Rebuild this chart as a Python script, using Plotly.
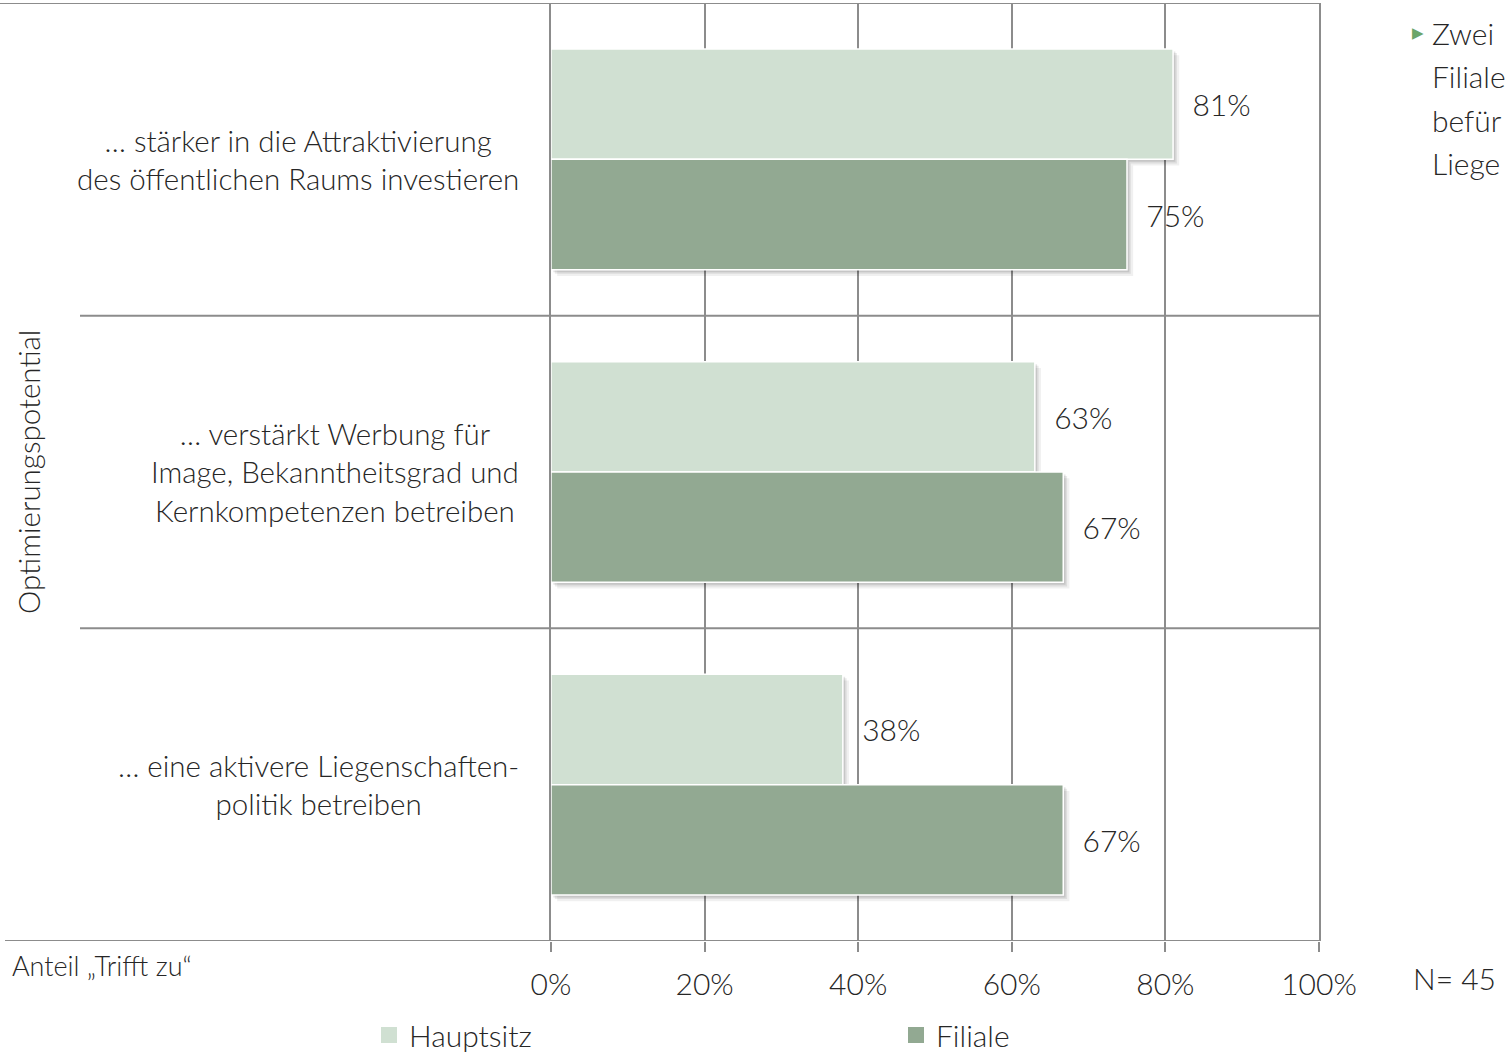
import plotly.graph_objects as go

# ---- data ----
categories = [
    "… stärker in die Attraktivierung<br>des öffentlichen Raums investieren",
    "… verstärkt Werbung für<br>Image, Bekanntheitsgrad und<br>Kernkompetenzen betreiben",
    "… eine aktivere Liegenschaften-<br>politik betreiben",
]
series_names = ["Hauptsitz", "Filiale"]
hauptsitz = [0.81, 0.63, 0.38]
filiale = [0.75, 0.667, 0.667]
x_ticks = [0, 0.2, 0.4, 0.6, 0.8, 1.0]
x_tick_labels = ["0%", "20%", "40%", "60%", "80%", "100%"]
y_axis_title = "Optimierungspotential"
x_axis_title = "Anteil „Trifft zu“"
sample_note = "N= 45"
note_lines = ["Zwei", "Filiale", "befür", "Liege"]  # visible (cut-off) part of side note

# ---- style ----
FONT = "Lato"
TXT = "#262626"
GRID = "#8c8c8c"
C_LIGHT = "#d0e0d2"
C_DARK = "#92a992"
BW = 0.353  # bar thickness (category units)

W, H = 1508, 1053
L, R, T, B = 551, 189, 3, 112
PW, PH = W - L - R, H - T - B

def px_x(p):
    return (p - L) / PW

def px_y(p):
    return (H - B - p) / PH

fig = go.Figure()

# soft drop shadows (drawn from the same data)
for vals, off in [(hauptsitz, -BW), (filiale, 0.0)]:
    for dx, dy, a in [(0.008, 0.02, 0.06), (0.005, 0.013, 0.08), (0.003, 0.008, 0.10)]:
        fig.add_trace(go.Bar(
            y=categories, x=vals, base=dx, orientation="h",
            width=BW, offset=off + dy,
            marker=dict(color=f"rgba(0,0,0,{a})", line=dict(width=0)),
            showlegend=False, hoverinfo="skip",
        ))

for name, vals, col, off, lg in [(series_names[0], hauptsitz, C_LIGHT, -BW, "legend"),
                                 (series_names[1], filiale, C_DARK, 0.0, "legend2")]:
    fig.add_trace(go.Bar(
        y=categories, x=vals, name=name, orientation="h",
        width=BW, offset=off, showlegend=False, legendgroup=name,
        marker=dict(color=col, line=dict(color="white", width=1.5)),
        text=vals, texttemplate="\u00a0\u00a0%{x:.0%}", textposition="outside",
        textfont=dict(family=FONT, size=30, color=TXT, weight=300),
        constraintext="none", cliponaxis=False,
    ))
    # legend entry (square swatch)
    fig.add_trace(go.Scatter(
        x=[None], y=[None], mode="markers", name=name, legend=lg, legendgroup=name,
        marker=dict(symbol="square", size=17, color=col),
        hoverinfo="skip",
    ))

# horizontal frame / separator lines
line_specs = [(-0.5, px_x(0)), (0.5, px_x(80)), (1.5, px_x(80)), (2.5, px_x(5))]
for yv, x0 in line_specs:
    fig.add_shape(type="line", xref="paper", yref="y", x0=x0, x1=1, y0=yv, y1=yv,
                  line=dict(color=GRID, width=2), layer="below")

annotations = []
for c in categories:
    annotations.append(dict(
        text=c, xref="paper", yref="y", x=px_x(521), y=c, xanchor="right",
        yanchor="middle", align="center", showarrow=False,
        font=dict(family=FONT, size=29.5, color=TXT, weight=300),
    ))
annotations.append(dict(
    text=y_axis_title, xref="paper", yref="paper", x=px_x(28), y=0.5,
    textangle=-90, showarrow=False, xanchor="center", yanchor="middle",
    font=dict(family=FONT, size=29.5, color=TXT, weight=300),
))
annotations.append(dict(
    text=x_axis_title, xref="paper", yref="paper", x=px_x(10), y=px_y(965),
    xanchor="left", yanchor="middle", showarrow=False,
    font=dict(family=FONT, size=27, color=TXT, weight=300),
))
annotations.append(dict(
    text=sample_note, xref="paper", yref="paper", x=px_x(1411), y=px_y(978),
    xanchor="left", yanchor="middle", showarrow=False,
    font=dict(family=FONT, size=30, color=TXT, weight=300),
))
annotations.append(dict(
    text="▶", xref="paper", yref="paper", x=px_x(1410), y=px_y(33),
    xanchor="left", yanchor="middle", showarrow=False,
    font=dict(family="DejaVu Sans", size=15, color="#6aa56a"),
))
for i, ln in enumerate(note_lines):
    annotations.append(dict(
        text=ln, xref="paper", yref="paper", x=px_x(1430), y=px_y(33 + 43.3 * i),
        xanchor="left", yanchor="middle", showarrow=False,
        font=dict(family=FONT, size=30, color=TXT, weight=300),
    ))

legend_common = dict(
    orientation="h", xref="container", yref="container",
    y=(H - 1035) / H, xanchor="left", yanchor="middle",
    font=dict(family=FONT, size=30, color=TXT, weight=300),
    bgcolor="rgba(0,0,0,0)",
)

fig.update_layout(
    width=W, height=H, autosize=False,
    margin=dict(l=L, r=R, t=T, b=B, pad=0, autoexpand=False),
    paper_bgcolor="white", plot_bgcolor="white",
    barmode="overlay",
    font=dict(family=FONT, color=TXT),
    xaxis=dict(
        range=[0, 1], tickvals=x_ticks, ticktext=x_tick_labels,
        showgrid=True, gridcolor=GRID, gridwidth=2, zeroline=False,
        ticks="outside", ticklen=10, tickwidth=2, tickcolor=GRID,
        ticklabelstandoff=7,
        tickfont=dict(family=FONT, size=30, color=TXT, weight=300),
        showline=False, fixedrange=True,
    ),
    yaxis=dict(
        categoryorder="array", categoryarray=categories,
        range=[2.5, -0.5], showticklabels=False, showgrid=False,
        zeroline=False, showline=True, mirror=True, linecolor=GRID, linewidth=2,
        ticks="", fixedrange=True,
    ),
    legend=dict(x=369 / W, **legend_common),
    legend2=dict(x=896 / W, **legend_common),
    annotations=annotations,
)

fig.write_html(
    "out.html",
    config={"displayModeBar": False},
    post_script="document.body.style.margin='0';document.body.style.overflow='hidden';",
)
